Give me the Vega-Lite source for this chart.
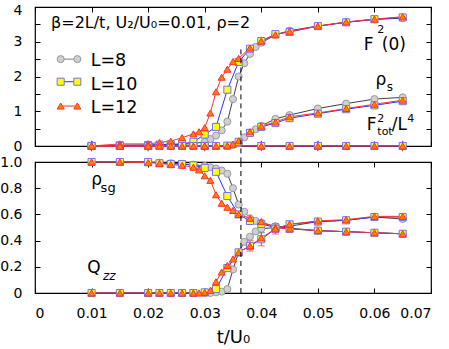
{
"$schema":"https://vega.github.io/schema/vega-lite/v6.json",
"padding":{"left":-1,"top":2,"right":5,"bottom":0},
"background":"white",
"config":{"font":"DejaVu Sans","view":{"stroke":"black","strokeWidth":1.2},
"axis":{"grid":false,"domain":false,"tickColor":"black","tickWidth":1,"tickSize":-5,"labelColor":"black","labelFontSize":14,"labelFont":"DejaVu Sans","titleFont":"DejaVu Sans","titleFontWeight":"normal","titleColor":"black"}},
"datasets":{
"main":[
{"L":"L=8","q":"F2","p":"top","t":0.01,"v":0},{"L":"L=8","q":"F2","p":"top","t":0.015,"v":0.02},{"L":"L=8","q":"F2","p":"top","t":0.02,"v":0.02},{"L":"L=8","q":"F2","p":"top","t":0.022,"v":0.03},{"L":"L=8","q":"F2","p":"top","t":0.024,"v":0.04},{"L":"L=8","q":"F2","p":"top","t":0.026,"v":0.05},{"L":"L=8","q":"F2","p":"top","t":0.028,"v":0.07},{"L":"L=8","q":"F2","p":"top","t":0.03,"v":0.12},{"L":"L=8","q":"F2","p":"top","t":0.031,"v":0.2},{"L":"L=8","q":"F2","p":"top","t":0.032,"v":0.3},{"L":"L=8","q":"F2","p":"top","t":0.033,"v":0.45},{"L":"L=8","q":"F2","p":"top","t":0.034,"v":0.7},{"L":"L=8","q":"F2","p":"top","t":0.035,"v":1.35},{"L":"L=8","q":"F2","p":"top","t":0.036,"v":2.0},{"L":"L=8","q":"F2","p":"top","t":0.037,"v":2.38},{"L":"L=8","q":"F2","p":"top","t":0.038,"v":2.65},{"L":"L=8","q":"F2","p":"top","t":0.039,"v":2.85},{"L":"L=8","q":"F2","p":"top","t":0.04,"v":2.97},{"L":"L=8","q":"F2","p":"top","t":0.0425,"v":3.2},{"L":"L=8","q":"F2","p":"top","t":0.045,"v":3.32},{"L":"L=8","q":"F2","p":"top","t":0.05,"v":3.45},{"L":"L=8","q":"F2","p":"top","t":0.055,"v":3.56},{"L":"L=8","q":"F2","p":"top","t":0.06,"v":3.64},{"L":"L=8","q":"F2","p":"top","t":0.065,"v":3.68},
{"L":"L=8","q":"rs","p":"top","t":0.01,"v":0},{"L":"L=8","q":"rs","p":"top","t":0.015,"v":0},{"L":"L=8","q":"rs","p":"top","t":0.02,"v":0},{"L":"L=8","q":"rs","p":"top","t":0.022,"v":0},{"L":"L=8","q":"rs","p":"top","t":0.024,"v":0},{"L":"L=8","q":"rs","p":"top","t":0.026,"v":0},{"L":"L=8","q":"rs","p":"top","t":0.028,"v":0},{"L":"L=8","q":"rs","p":"top","t":0.03,"v":0},{"L":"L=8","q":"rs","p":"top","t":0.032,"v":0},{"L":"L=8","q":"rs","p":"top","t":0.034,"v":0.01},{"L":"L=8","q":"rs","p":"top","t":0.035,"v":0.03},{"L":"L=8","q":"rs","p":"top","t":0.036,"v":0.08},{"L":"L=8","q":"rs","p":"top","t":0.037,"v":0.25},{"L":"L=8","q":"rs","p":"top","t":0.038,"v":0.37},{"L":"L=8","q":"rs","p":"top","t":0.039,"v":0.48},{"L":"L=8","q":"rs","p":"top","t":0.04,"v":0.58},{"L":"L=8","q":"rs","p":"top","t":0.0425,"v":0.78},{"L":"L=8","q":"rs","p":"top","t":0.045,"v":0.89},{"L":"L=8","q":"rs","p":"top","t":0.05,"v":1.08},{"L":"L=8","q":"rs","p":"top","t":0.055,"v":1.22},{"L":"L=8","q":"rs","p":"top","t":0.06,"v":1.35},{"L":"L=8","q":"rs","p":"top","t":0.065,"v":1.4},
{"L":"L=8","q":"ft","p":"top","t":0.01,"v":0},{"L":"L=8","q":"ft","p":"top","t":0.02,"v":0},{"L":"L=8","q":"ft","p":"top","t":0.03,"v":0},{"L":"L=8","q":"ft","p":"top","t":0.04,"v":0},{"L":"L=8","q":"ft","p":"top","t":0.05,"v":0},{"L":"L=8","q":"ft","p":"top","t":0.065,"v":0},
{"L":"L=8","q":"sg","p":"bot","t":0.01,"v":1},{"L":"L=8","q":"sg","p":"bot","t":0.015,"v":1},{"L":"L=8","q":"sg","p":"bot","t":0.02,"v":1},{"L":"L=8","q":"sg","p":"bot","t":0.022,"v":0.995},{"L":"L=8","q":"sg","p":"bot","t":0.024,"v":0.99},{"L":"L=8","q":"sg","p":"bot","t":0.026,"v":0.985},{"L":"L=8","q":"sg","p":"bot","t":0.028,"v":0.98},{"L":"L=8","q":"sg","p":"bot","t":0.03,"v":0.97},{"L":"L=8","q":"sg","p":"bot","t":0.031,"v":0.96},{"L":"L=8","q":"sg","p":"bot","t":0.032,"v":0.95},{"L":"L=8","q":"sg","p":"bot","t":0.033,"v":0.935},{"L":"L=8","q":"sg","p":"bot","t":0.034,"v":0.91},{"L":"L=8","q":"sg","p":"bot","t":0.035,"v":0.8},{"L":"L=8","q":"sg","p":"bot","t":0.036,"v":0.675},{"L":"L=8","q":"sg","p":"bot","t":0.037,"v":0.62},{"L":"L=8","q":"sg","p":"bot","t":0.038,"v":0.57},{"L":"L=8","q":"sg","p":"bot","t":0.039,"v":0.55},{"L":"L=8","q":"sg","p":"bot","t":0.04,"v":0.535},{"L":"L=8","q":"sg","p":"bot","t":0.0425,"v":0.51},{"L":"L=8","q":"sg","p":"bot","t":0.045,"v":0.495},{"L":"L=8","q":"sg","p":"bot","t":0.05,"v":0.476},{"L":"L=8","q":"sg","p":"bot","t":0.055,"v":0.468},{"L":"L=8","q":"sg","p":"bot","t":0.06,"v":0.46},{"L":"L=8","q":"sg","p":"bot","t":0.065,"v":0.452},
{"L":"L=8","q":"qz","p":"bot","t":0.01,"v":0},{"L":"L=8","q":"qz","p":"bot","t":0.015,"v":0},{"L":"L=8","q":"qz","p":"bot","t":0.02,"v":0},{"L":"L=8","q":"qz","p":"bot","t":0.022,"v":0},{"L":"L=8","q":"qz","p":"bot","t":0.024,"v":0},{"L":"L=8","q":"qz","p":"bot","t":0.026,"v":0},{"L":"L=8","q":"qz","p":"bot","t":0.028,"v":0},{"L":"L=8","q":"qz","p":"bot","t":0.03,"v":0},{"L":"L=8","q":"qz","p":"bot","t":0.031,"v":0},{"L":"L=8","q":"qz","p":"bot","t":0.032,"v":0.005},{"L":"L=8","q":"qz","p":"bot","t":0.033,"v":0.01},{"L":"L=8","q":"qz","p":"bot","t":0.034,"v":0.03},{"L":"L=8","q":"qz","p":"bot","t":0.035,"v":0.18},{"L":"L=8","q":"qz","p":"bot","t":0.036,"v":0.31},{"L":"L=8","q":"qz","p":"bot","t":0.037,"v":0.39},{"L":"L=8","q":"qz","p":"bot","t":0.038,"v":0.43},{"L":"L=8","q":"qz","p":"bot","t":0.039,"v":0.47},{"L":"L=8","q":"qz","p":"bot","t":0.04,"v":0.49},{"L":"L=8","q":"qz","p":"bot","t":0.0425,"v":0.5},{"L":"L=8","q":"qz","p":"bot","t":0.045,"v":0.51},{"L":"L=8","q":"qz","p":"bot","t":0.05,"v":0.545},{"L":"L=8","q":"qz","p":"bot","t":0.055,"v":0.555},{"L":"L=8","q":"qz","p":"bot","t":0.06,"v":0.58},{"L":"L=8","q":"qz","p":"bot","t":0.065,"v":0.565},
{"L":"L=10","q":"F2","p":"top","t":0.01,"v":0},{"L":"L=10","q":"F2","p":"top","t":0.015,"v":0.02},{"L":"L=10","q":"F2","p":"top","t":0.02,"v":0.03},{"L":"L=10","q":"F2","p":"top","t":0.022,"v":0.04},{"L":"L=10","q":"F2","p":"top","t":0.024,"v":0.05},{"L":"L=10","q":"F2","p":"top","t":0.026,"v":0.06},{"L":"L=10","q":"F2","p":"top","t":0.028,"v":0.12},{"L":"L=10","q":"F2","p":"top","t":0.03,"v":0.33},{"L":"L=10","q":"F2","p":"top","t":0.032,"v":0.55},{"L":"L=10","q":"F2","p":"top","t":0.034,"v":1.62},{"L":"L=10","q":"F2","p":"top","t":0.036,"v":2.42},{"L":"L=10","q":"F2","p":"top","t":0.038,"v":2.8},{"L":"L=10","q":"F2","p":"top","t":0.04,"v":3.02},{"L":"L=10","q":"F2","p":"top","t":0.0425,"v":3.22},{"L":"L=10","q":"F2","p":"top","t":0.045,"v":3.28},{"L":"L=10","q":"F2","p":"top","t":0.05,"v":3.45},{"L":"L=10","q":"F2","p":"top","t":0.055,"v":3.56},{"L":"L=10","q":"F2","p":"top","t":0.06,"v":3.65},{"L":"L=10","q":"F2","p":"top","t":0.065,"v":3.7},
{"L":"L=10","q":"rs","p":"top","t":0.01,"v":0},{"L":"L=10","q":"rs","p":"top","t":0.015,"v":0},{"L":"L=10","q":"rs","p":"top","t":0.02,"v":0},{"L":"L=10","q":"rs","p":"top","t":0.022,"v":0},{"L":"L=10","q":"rs","p":"top","t":0.024,"v":0},{"L":"L=10","q":"rs","p":"top","t":0.026,"v":0},{"L":"L=10","q":"rs","p":"top","t":0.028,"v":0},{"L":"L=10","q":"rs","p":"top","t":0.03,"v":0},{"L":"L=10","q":"rs","p":"top","t":0.032,"v":0},{"L":"L=10","q":"rs","p":"top","t":0.034,"v":0.01},{"L":"L=10","q":"rs","p":"top","t":0.036,"v":0.12},{"L":"L=10","q":"rs","p":"top","t":0.038,"v":0.38},{"L":"L=10","q":"rs","p":"top","t":0.04,"v":0.55},{"L":"L=10","q":"rs","p":"top","t":0.0425,"v":0.66},{"L":"L=10","q":"rs","p":"top","t":0.045,"v":0.8},{"L":"L=10","q":"rs","p":"top","t":0.05,"v":0.93},{"L":"L=10","q":"rs","p":"top","t":0.055,"v":1.06},{"L":"L=10","q":"rs","p":"top","t":0.06,"v":1.17},{"L":"L=10","q":"rs","p":"top","t":0.065,"v":1.29},
{"L":"L=10","q":"ft","p":"top","t":0.01,"v":0},{"L":"L=10","q":"ft","p":"top","t":0.015,"v":0},{"L":"L=10","q":"ft","p":"top","t":0.02,"v":0},{"L":"L=10","q":"ft","p":"top","t":0.03,"v":0},{"L":"L=10","q":"ft","p":"top","t":0.04,"v":0},{"L":"L=10","q":"ft","p":"top","t":0.045,"v":0},{"L":"L=10","q":"ft","p":"top","t":0.05,"v":0},{"L":"L=10","q":"ft","p":"top","t":0.055,"v":0},{"L":"L=10","q":"ft","p":"top","t":0.06,"v":0},{"L":"L=10","q":"ft","p":"top","t":0.065,"v":0},
{"L":"L=10","q":"sg","p":"bot","t":0.01,"v":1},{"L":"L=10","q":"sg","p":"bot","t":0.015,"v":1},{"L":"L=10","q":"sg","p":"bot","t":0.02,"v":1},{"L":"L=10","q":"sg","p":"bot","t":0.022,"v":0.99},{"L":"L=10","q":"sg","p":"bot","t":0.024,"v":0.985},{"L":"L=10","q":"sg","p":"bot","t":0.026,"v":0.985},{"L":"L=10","q":"sg","p":"bot","t":0.028,"v":0.975},{"L":"L=10","q":"sg","p":"bot","t":0.03,"v":0.955},{"L":"L=10","q":"sg","p":"bot","t":0.032,"v":0.925},{"L":"L=10","q":"sg","p":"bot","t":0.034,"v":0.74},{"L":"L=10","q":"sg","p":"bot","t":0.036,"v":0.6},{"L":"L=10","q":"sg","p":"bot","t":0.038,"v":0.55},{"L":"L=10","q":"sg","p":"bot","t":0.04,"v":0.527},{"L":"L=10","q":"sg","p":"bot","t":0.0425,"v":0.5},{"L":"L=10","q":"sg","p":"bot","t":0.045,"v":0.49},{"L":"L=10","q":"sg","p":"bot","t":0.05,"v":0.476},{"L":"L=10","q":"sg","p":"bot","t":0.055,"v":0.468},{"L":"L=10","q":"sg","p":"bot","t":0.06,"v":0.46},{"L":"L=10","q":"sg","p":"bot","t":0.065,"v":0.452},
{"L":"L=10","q":"qz","p":"bot","t":0.01,"v":0},{"L":"L=10","q":"qz","p":"bot","t":0.015,"v":0},{"L":"L=10","q":"qz","p":"bot","t":0.02,"v":0},{"L":"L=10","q":"qz","p":"bot","t":0.022,"v":0},{"L":"L=10","q":"qz","p":"bot","t":0.024,"v":0},{"L":"L=10","q":"qz","p":"bot","t":0.026,"v":0},{"L":"L=10","q":"qz","p":"bot","t":0.028,"v":0},{"L":"L=10","q":"qz","p":"bot","t":0.03,"v":0.005},{"L":"L=10","q":"qz","p":"bot","t":0.032,"v":0.03},{"L":"L=10","q":"qz","p":"bot","t":0.034,"v":0.19},{"L":"L=10","q":"qz","p":"bot","t":0.036,"v":0.31},{"L":"L=10","q":"qz","p":"bot","t":0.038,"v":0.36},{"L":"L=10","q":"qz","p":"bot","t":0.04,"v":0.41},{"L":"L=10","q":"qz","p":"bot","t":0.0425,"v":0.49},{"L":"L=10","q":"qz","p":"bot","t":0.045,"v":0.525},{"L":"L=10","q":"qz","p":"bot","t":0.05,"v":0.545},{"L":"L=10","q":"qz","p":"bot","t":0.055,"v":0.555},{"L":"L=10","q":"qz","p":"bot","t":0.06,"v":0.58},{"L":"L=10","q":"qz","p":"bot","t":0.065,"v":0.58},
{"L":"L=12","q":"F2","p":"top","t":0.01,"v":0},{"L":"L=12","q":"F2","p":"top","t":0.015,"v":0.06},{"L":"L=12","q":"F2","p":"top","t":0.02,"v":0.06},{"L":"L=12","q":"F2","p":"top","t":0.022,"v":0.1},{"L":"L=12","q":"F2","p":"top","t":0.024,"v":0.14},{"L":"L=12","q":"F2","p":"top","t":0.026,"v":0.24},{"L":"L=12","q":"F2","p":"top","t":0.028,"v":0.35},{"L":"L=12","q":"F2","p":"top","t":0.029,"v":0.41},{"L":"L=12","q":"F2","p":"top","t":0.03,"v":0.53},{"L":"L=12","q":"F2","p":"top","t":0.031,"v":0.95},{"L":"L=12","q":"F2","p":"top","t":0.032,"v":1.56},{"L":"L=12","q":"F2","p":"top","t":0.033,"v":1.98},{"L":"L=12","q":"F2","p":"top","t":0.034,"v":2.21},{"L":"L=12","q":"F2","p":"top","t":0.035,"v":2.43},{"L":"L=12","q":"F2","p":"top","t":0.036,"v":2.52},{"L":"L=12","q":"F2","p":"top","t":0.038,"v":2.82},{"L":"L=12","q":"F2","p":"top","t":0.04,"v":3.02},{"L":"L=12","q":"F2","p":"top","t":0.0425,"v":3.2},{"L":"L=12","q":"F2","p":"top","t":0.045,"v":3.3},{"L":"L=12","q":"F2","p":"top","t":0.05,"v":3.45},{"L":"L=12","q":"F2","p":"top","t":0.055,"v":3.57},{"L":"L=12","q":"F2","p":"top","t":0.06,"v":3.65},{"L":"L=12","q":"F2","p":"top","t":0.065,"v":3.72},
{"L":"L=12","q":"rs","p":"top","t":0.01,"v":0},{"L":"L=12","q":"rs","p":"top","t":0.015,"v":0},{"L":"L=12","q":"rs","p":"top","t":0.02,"v":0},{"L":"L=12","q":"rs","p":"top","t":0.022,"v":0},{"L":"L=12","q":"rs","p":"top","t":0.024,"v":0},{"L":"L=12","q":"rs","p":"top","t":0.026,"v":0},{"L":"L=12","q":"rs","p":"top","t":0.028,"v":0},{"L":"L=12","q":"rs","p":"top","t":0.03,"v":0},{"L":"L=12","q":"rs","p":"top","t":0.032,"v":0},{"L":"L=12","q":"rs","p":"top","t":0.034,"v":0.01},{"L":"L=12","q":"rs","p":"top","t":0.035,"v":0.05},{"L":"L=12","q":"rs","p":"top","t":0.036,"v":0.15},{"L":"L=12","q":"rs","p":"top","t":0.038,"v":0.41},{"L":"L=12","q":"rs","p":"top","t":0.04,"v":0.57},{"L":"L=12","q":"rs","p":"top","t":0.0425,"v":0.69},{"L":"L=12","q":"rs","p":"top","t":0.045,"v":0.84},{"L":"L=12","q":"rs","p":"top","t":0.05,"v":0.95},{"L":"L=12","q":"rs","p":"top","t":0.055,"v":1.08},{"L":"L=12","q":"rs","p":"top","t":0.06,"v":1.2},{"L":"L=12","q":"rs","p":"top","t":0.065,"v":1.32},
{"L":"L=12","q":"ft","p":"top","t":0.01,"v":0},{"L":"L=12","q":"ft","p":"top","t":0.015,"v":0},{"L":"L=12","q":"ft","p":"top","t":0.02,"v":0},{"L":"L=12","q":"ft","p":"top","t":0.03,"v":0},{"L":"L=12","q":"ft","p":"top","t":0.04,"v":0},{"L":"L=12","q":"ft","p":"top","t":0.045,"v":0},{"L":"L=12","q":"ft","p":"top","t":0.05,"v":0},{"L":"L=12","q":"ft","p":"top","t":0.055,"v":0},{"L":"L=12","q":"ft","p":"top","t":0.06,"v":0},{"L":"L=12","q":"ft","p":"top","t":0.065,"v":0},
{"L":"L=12","q":"sg","p":"bot","t":0.01,"v":1},{"L":"L=12","q":"sg","p":"bot","t":0.015,"v":1},{"L":"L=12","q":"sg","p":"bot","t":0.02,"v":0.995},{"L":"L=12","q":"sg","p":"bot","t":0.022,"v":0.99},{"L":"L=12","q":"sg","p":"bot","t":0.024,"v":0.98},{"L":"L=12","q":"sg","p":"bot","t":0.026,"v":0.975},{"L":"L=12","q":"sg","p":"bot","t":0.028,"v":0.96},{"L":"L=12","q":"sg","p":"bot","t":0.029,"v":0.94},{"L":"L=12","q":"sg","p":"bot","t":0.03,"v":0.895},{"L":"L=12","q":"sg","p":"bot","t":0.031,"v":0.86},{"L":"L=12","q":"sg","p":"bot","t":0.032,"v":0.75},{"L":"L=12","q":"sg","p":"bot","t":0.033,"v":0.685},{"L":"L=12","q":"sg","p":"bot","t":0.034,"v":0.655},{"L":"L=12","q":"sg","p":"bot","t":0.035,"v":0.63},{"L":"L=12","q":"sg","p":"bot","t":0.036,"v":0.6},{"L":"L=12","q":"sg","p":"bot","t":0.038,"v":0.57},{"L":"L=12","q":"sg","p":"bot","t":0.04,"v":0.545},{"L":"L=12","q":"sg","p":"bot","t":0.0425,"v":0.5},{"L":"L=12","q":"sg","p":"bot","t":0.045,"v":0.49},{"L":"L=12","q":"sg","p":"bot","t":0.05,"v":0.476},{"L":"L=12","q":"sg","p":"bot","t":0.055,"v":0.468},{"L":"L=12","q":"sg","p":"bot","t":0.06,"v":0.46},{"L":"L=12","q":"sg","p":"bot","t":0.065,"v":0.452},
{"L":"L=12","q":"qz","p":"bot","t":0.01,"v":0},{"L":"L=12","q":"qz","p":"bot","t":0.015,"v":0},{"L":"L=12","q":"qz","p":"bot","t":0.02,"v":0},{"L":"L=12","q":"qz","p":"bot","t":0.022,"v":0},{"L":"L=12","q":"qz","p":"bot","t":0.024,"v":0},{"L":"L=12","q":"qz","p":"bot","t":0.026,"v":0},{"L":"L=12","q":"qz","p":"bot","t":0.028,"v":0},{"L":"L=12","q":"qz","p":"bot","t":0.029,"v":0},{"L":"L=12","q":"qz","p":"bot","t":0.03,"v":0.005},{"L":"L=12","q":"qz","p":"bot","t":0.031,"v":0.02},{"L":"L=12","q":"qz","p":"bot","t":0.032,"v":0.086},{"L":"L=12","q":"qz","p":"bot","t":0.033,"v":0.16},{"L":"L=12","q":"qz","p":"bot","t":0.034,"v":0.21},{"L":"L=12","q":"qz","p":"bot","t":0.035,"v":0.26},{"L":"L=12","q":"qz","p":"bot","t":0.036,"v":0.31},{"L":"L=12","q":"qz","p":"bot","t":0.038,"v":0.36},{"L":"L=12","q":"qz","p":"bot","t":0.04,"v":0.42},{"L":"L=12","q":"qz","p":"bot","t":0.0425,"v":0.49},{"L":"L=12","q":"qz","p":"bot","t":0.045,"v":0.525},{"L":"L=12","q":"qz","p":"bot","t":0.05,"v":0.55},{"L":"L=12","q":"qz","p":"bot","t":0.055,"v":0.56},{"L":"L=12","q":"qz","p":"bot","t":0.06,"v":0.585},{"L":"L=12","q":"qz","p":"bot","t":0.065,"v":0.585}
],
"err":[
{"L":"L=8","p":"top","t":0.01,"lo":-0.15,"hi":0.15},{"L":"L=8","p":"top","t":0.02,"lo":-0.15,"hi":0.15},{"L":"L=8","p":"top","t":0.03,"lo":-0.15,"hi":0.15},{"L":"L=8","p":"top","t":0.04,"lo":-0.15,"hi":0.15},{"L":"L=8","p":"top","t":0.05,"lo":-0.15,"hi":0.15},{"L":"L=8","p":"top","t":0.065,"lo":-0.15,"hi":0.15},
{"L":"L=8","p":"bot","t":0.04,"lo":0.46,"hi":0.52},
{"L":"L=12","p":"bot","t":0.038,"lo":0.32,"hi":0.4},{"L":"L=12","p":"bot","t":0.04,"lo":0.36,"hi":0.48},{"L":"L=12","p":"bot","t":0.0425,"lo":0.45,"hi":0.53},{"L":"L=12","p":"bot","t":0.055,"lo":0.545,"hi":0.575},{"L":"L=12","p":"bot","t":0.06,"lo":0.57,"hi":0.6}
]
},
"resolve":{"scale":{"y":"independent"}},
"bounds":"flush",
"spacing":16,
"vconcat":[
{"width":396,"height":139,
"data":{"name":"main"},
"transform":[{"filter":"datum.p === 'top'"}],
"resolve":{"axis":{"x":"independent","y":"independent"}},
"layer":[
{"data":{"name":"err"},"transform":[{"filter":"datum.p === 'top'"}],"mark":{"type":"rule","strokeWidth":1},
"encoding":{"x":{"field":"t","type":"quantitative","axis":null},"y":{"field":"lo","type":"quantitative","axis":null},"y2":{"field":"hi"},
"color":{"field":"L","type":"nominal","scale":{"domain":["L=8","L=10","L=12"],"range":["#404040","#3030ff","#ff3030"]},"legend":null}}},
{"mark":{"type":"line","strokeWidth":1},
"encoding":{
"x":{"field":"t","type":"quantitative","scale":{"domain":[0,0.07],"nice":false,"zero":false},"axis":{"orient":"bottom","values":[0,0.01,0.02,0.03,0.04,0.05,0.06,0.07],"labels":false,"title":null}},
"y":{"field":"v","type":"quantitative","scale":{"domain":[0,4],"nice":false},"axis":{"orient":"left","values":[0,0.5,1,1.5,2,2.5,3,3.5,4],"labelExpr":"datum.value % 1 === 0 ? format(datum.value,'d') : ''","labelPadding":18,"labelOffset":{"condition":{"test":"datum.value === 4","value":3},"value":0},"title":null}},
"color":{"field":"L","type":"nominal","scale":{"domain":["L=8","L=10","L=12"],"range":["#404040","#3030ff","#ff3030"]},"legend":null},
"detail":{"field":"q"}}},
{"mark":{"type":"point","filled":true,"size":50,"strokeWidth":1,"opacity":1},
"encoding":{
"x":{"field":"t","type":"quantitative","axis":{"orient":"top","values":[0,0.01,0.02,0.03,0.04,0.05,0.06,0.07],"labels":false,"title":null}},
"y":{"field":"v","type":"quantitative","axis":{"orient":"right","values":[0,0.5,1,1.5,2,2.5,3,3.5,4],"labels":false,"title":null}},
"shape":{"field":"L","type":"nominal","scale":{"domain":["L=8","L=10","L=12"],"range":["circle","square","triangle-up"]},"legend":null},
"fill":{"field":"L","type":"nominal","scale":{"domain":["L=8","L=10","L=12"],"range":["#d0d0d0","#ffff00","#ff8000"]},"legend":null},
"stroke":{"field":"L","type":"nominal","scale":{"domain":["L=8","L=10","L=12"],"range":["#999999","#7070ff","#ff3030"]},"legend":null}}},
{"data":{"values":[{}]},"mark":{"type":"rule","strokeDash":[5,4],"color":"black","strokeWidth":1},"encoding":{"x":{"datum":0.0364,"axis":null},"y":{"datum":2.78,"axis":null},"y2":{"datum":-0.46}}},
{"data":{"values":[{}]},"mark":{"type":"text","text":"β=2L/t, U₂/U₀=0.01, ρ=2","align":"left","baseline":"alphabetic","fontSize":16},"encoding":{"x":{"datum":0.00283,"axis":null},"y":{"datum":3.39,"axis":null}}},
{"data":{"values":[{}]},"mark":{"type":"text","text":"F","align":"left","baseline":"alphabetic","fontSize":17},"encoding":{"x":{"datum":0.05813,"axis":null},"y":{"datum":2.76,"axis":null}}},
{"data":{"values":[{}]},"mark":{"type":"text","text":"2","align":"left","baseline":"alphabetic","fontSize":11},"encoding":{"x":{"datum":0.0605,"axis":null},"y":{"datum":3.24,"axis":null}}},
{"data":{"values":[{}]},"mark":{"type":"text","text":"(0)","align":"left","baseline":"alphabetic","fontSize":17},"encoding":{"x":{"datum":0.06131,"axis":null},"y":{"datum":2.76,"axis":null}}},
{"data":{"values":[{}]},"mark":{"type":"text","text":"ρ","align":"left","baseline":"alphabetic","fontSize":17},"encoding":{"x":{"datum":0.0602,"axis":null},"y":{"datum":1.755,"axis":null}}},
{"data":{"values":[{}]},"mark":{"type":"text","text":"s","align":"left","baseline":"alphabetic","fontSize":12},"encoding":{"x":{"datum":0.0622,"axis":null},"y":{"datum":1.59,"axis":null}}},
{"data":{"values":[{}]},"mark":{"type":"text","text":"F","align":"left","baseline":"alphabetic","fontSize":17},"encoding":{"x":{"datum":0.05866,"axis":null},"y":{"datum":0.46,"axis":null}}},
{"data":{"values":[{}]},"mark":{"type":"text","text":"2","align":"left","baseline":"alphabetic","fontSize":11},"encoding":{"x":{"datum":0.06051,"axis":null},"y":{"datum":0.7,"axis":null}}},
{"data":{"values":[{}]},"mark":{"type":"text","text":"tot","align":"left","baseline":"alphabetic","fontSize":11},"encoding":{"x":{"datum":0.06051,"axis":null},"y":{"datum":0.317,"axis":null}}},
{"data":{"values":[{}]},"mark":{"type":"text","text":"/L","align":"left","baseline":"alphabetic","fontSize":17},"encoding":{"x":{"datum":0.06307,"axis":null},"y":{"datum":0.46,"axis":null}}},
{"data":{"values":[{}]},"mark":{"type":"text","text":"4","align":"left","baseline":"alphabetic","fontSize":11},"encoding":{"x":{"datum":0.06581,"axis":null},"y":{"datum":0.69,"axis":null}}},
{"data":{"values":[{}]},"mark":{"type":"rule","color":"#808080","strokeWidth":1},"encoding":{"x":{"datum":0.00454,"axis":null},"x2":{"datum":0.00748},"y":{"datum":2.5,"axis":null}}},
{"data":{"values":[{}]},"mark":{"type":"point","shape":"circle","filled":true,"fill":"#d0d0d0","stroke":"#999999","strokeWidth":1,"size":50,"opacity":1},"encoding":{"x":{"datum":0.00454,"axis":null},"y":{"datum":2.5,"axis":null}}},
{"data":{"values":[{}]},"mark":{"type":"point","shape":"circle","filled":true,"fill":"#d0d0d0","stroke":"#999999","strokeWidth":1,"size":50,"opacity":1},"encoding":{"x":{"datum":0.00748,"axis":null},"y":{"datum":2.5,"axis":null}}},
{"data":{"values":[{}]},"mark":{"type":"text","text":"L=8","align":"left","baseline":"alphabetic","fontSize":17.5},"encoding":{"x":{"datum":0.00984,"axis":null},"y":{"datum":2.31,"axis":null}}},
{"data":{"values":[{}]},"mark":{"type":"rule","color":"#3030ff","strokeWidth":1},"encoding":{"x":{"datum":0.00454,"axis":null},"x2":{"datum":0.00748},"y":{"datum":1.85,"axis":null}}},
{"data":{"values":[{}]},"mark":{"type":"point","shape":"square","filled":true,"fill":"#ffff00","stroke":"#7070ff","strokeWidth":1,"size":50,"opacity":1},"encoding":{"x":{"datum":0.00454,"axis":null},"y":{"datum":1.85,"axis":null}}},
{"data":{"values":[{}]},"mark":{"type":"point","shape":"square","filled":true,"fill":"#ffff00","stroke":"#7070ff","strokeWidth":1,"size":50,"opacity":1},"encoding":{"x":{"datum":0.00748,"axis":null},"y":{"datum":1.85,"axis":null}}},
{"data":{"values":[{}]},"mark":{"type":"text","text":"L=10","align":"left","baseline":"alphabetic","fontSize":17.5},"encoding":{"x":{"datum":0.00984,"axis":null},"y":{"datum":1.61,"axis":null}}},
{"data":{"values":[{}]},"mark":{"type":"rule","color":"#ff3030","strokeWidth":1},"encoding":{"x":{"datum":0.00454,"axis":null},"x2":{"datum":0.00748},"y":{"datum":1.15,"axis":null}}},
{"data":{"values":[{}]},"mark":{"type":"point","shape":"triangle-up","filled":true,"fill":"#ff8000","stroke":"#ff3030","strokeWidth":1,"size":50,"opacity":1},"encoding":{"x":{"datum":0.00454,"axis":null},"y":{"datum":1.15,"axis":null}}},
{"data":{"values":[{}]},"mark":{"type":"point","shape":"triangle-up","filled":true,"fill":"#ff8000","stroke":"#ff3030","strokeWidth":1,"size":50,"opacity":1},"encoding":{"x":{"datum":0.00748,"axis":null},"y":{"datum":1.15,"axis":null}}},
{"data":{"values":[{}]},"mark":{"type":"text","text":"L=12","align":"left","baseline":"alphabetic","fontSize":17.5},"encoding":{"x":{"datum":0.00984,"axis":null},"y":{"datum":0.94,"axis":null}}}
]},
{"width":396,"height":131,
"data":{"name":"main"},
"transform":[{"filter":"datum.p === 'bot'"}],
"resolve":{"axis":{"x":"independent","y":"independent"}},
"layer":[
{"data":{"name":"err"},"transform":[{"filter":"datum.p === 'bot'"}],"mark":{"type":"rule","strokeWidth":1},
"encoding":{"x":{"field":"t","type":"quantitative","axis":null},"y":{"field":"lo","type":"quantitative","axis":null},"y2":{"field":"hi"},
"color":{"field":"L","type":"nominal","scale":{"domain":["L=8","L=10","L=12"],"range":["#404040","#3030ff","#ff3030"]},"legend":null}}},
{"data":{"name":"err"},"transform":[{"filter":"datum.p === 'bot'"}],"mark":{"type":"tick","orient":"horizontal","size":7,"thickness":1},
"encoding":{"x":{"field":"t","type":"quantitative","axis":null},"y":{"field":"lo","type":"quantitative","axis":null},
"color":{"field":"L","type":"nominal","scale":{"domain":["L=8","L=10","L=12"],"range":["#404040","#3030ff","#ff3030"]},"legend":null}}},
{"data":{"name":"err"},"transform":[{"filter":"datum.p === 'bot'"}],"mark":{"type":"tick","orient":"horizontal","size":7,"thickness":1},
"encoding":{"x":{"field":"t","type":"quantitative","axis":null},"y":{"field":"hi","type":"quantitative","axis":null},
"color":{"field":"L","type":"nominal","scale":{"domain":["L=8","L=10","L=12"],"range":["#404040","#3030ff","#ff3030"]},"legend":null}}},
{"mark":{"type":"line","strokeWidth":1},
"encoding":{
"x":{"field":"t","type":"quantitative","scale":{"domain":[0,0.07],"nice":false,"zero":false},"axis":{"orient":"bottom","values":[0,0.01,0.02,0.03,0.04,0.05,0.06,0.07],"labelExpr":"datum.value === 0 ? '0' : format(datum.value,'.2f')","labelPadding":18,"title":"t/U₀","titleFontSize":18,"titlePadding":8}},
"y":{"field":"v","type":"quantitative","scale":{"domain":[0,1],"nice":false},"axis":{"orient":"left","values":[0,0.2,0.4,0.6,0.8,1],"labelExpr":"datum.value === 0 ? '0' : format(datum.value,'.1f')","labelPadding":18,"title":null}},
"color":{"field":"L","type":"nominal","scale":{"domain":["L=8","L=10","L=12"],"range":["#404040","#3030ff","#ff3030"]},"legend":null},
"detail":{"field":"q"}}},
{"mark":{"type":"point","filled":true,"size":50,"strokeWidth":1,"opacity":1},
"encoding":{
"x":{"field":"t","type":"quantitative","axis":{"orient":"top","values":[0,0.01,0.02,0.03,0.04,0.05,0.06,0.07],"labels":false,"title":null}},
"y":{"field":"v","type":"quantitative","axis":{"orient":"right","values":[0,0.2,0.4,0.6,0.8,1],"labels":false,"title":null}},
"shape":{"field":"L","type":"nominal","scale":{"domain":["L=8","L=10","L=12"],"range":["circle","square","triangle-up"]},"legend":null},
"fill":{"field":"L","type":"nominal","scale":{"domain":["L=8","L=10","L=12"],"range":["#d0d0d0","#ffff00","#ff8000"]},"legend":null},
"stroke":{"field":"L","type":"nominal","scale":{"domain":["L=8","L=10","L=12"],"range":["#999999","#7070ff","#ff3030"]},"legend":null}}},
{"data":{"values":[{}]},"mark":{"type":"rule","strokeDash":[5,4],"color":"black","strokeWidth":1},"encoding":{"x":{"datum":0.0364,"axis":null},"y":{"datum":0,"axis":null},"y2":{"datum":1}}},
{"data":{"values":[{}]},"mark":{"type":"text","text":"ρ","align":"left","baseline":"alphabetic","fontSize":17},"encoding":{"x":{"datum":0.00995,"axis":null},"y":{"datum":0.824,"axis":null}}},
{"data":{"values":[{}]},"mark":{"type":"text","text":"sg","align":"left","baseline":"alphabetic","fontSize":13},"encoding":{"x":{"datum":0.0116,"axis":null},"y":{"datum":0.773,"axis":null}}},
{"data":{"values":[{}]},"mark":{"type":"text","text":"Q","align":"left","baseline":"alphabetic","fontSize":17},"encoding":{"x":{"datum":0.00924,"axis":null},"y":{"datum":0.155,"axis":null}}},
{"data":{"values":[{}]},"mark":{"type":"text","text":"zz","align":"left","baseline":"alphabetic","fontSize":12,"fontStyle":"italic"},"encoding":{"x":{"datum":0.012,"axis":null},"y":{"datum":0.099,"axis":null}}}
]}
]
}
